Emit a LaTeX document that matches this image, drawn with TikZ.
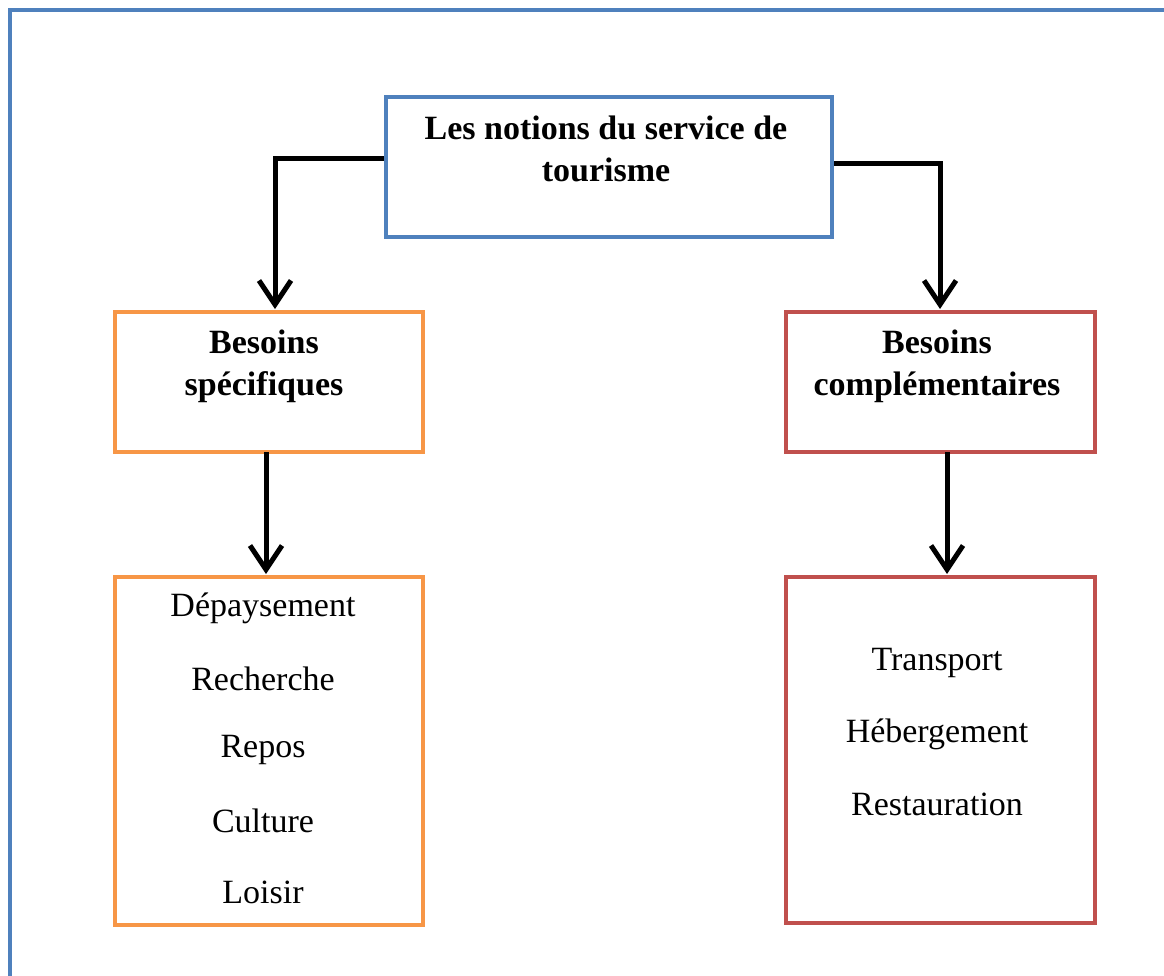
\documentclass[tikz,border=0pt]{standalone}
\usepackage{fontspec}
\setmainfont{Liberation Serif}
\usetikzlibrary{arrows.meta}
\definecolor{frameblue}{HTML}{4F81BD}
\definecolor{boxorange}{HTML}{F79646}
\definecolor{boxred}{HTML}{C0504D}
\tikzset{
  box/.style={draw, line width=4pt, minimum width=#1, inner sep=0pt, anchor=north west},
  conn/.style={line width=5pt, -{Straight Barb[length=24pt,width=32pt,line width=5pt]}},
  ttl/.style={font=\fontsize{34}{42}\selectfont\bfseries, align=center, inner sep=0pt},
  itm/.style={font=\fontsize{34}{42}\selectfont, inner sep=0pt},
}
\begin{document}
\begin{tikzpicture}[x=1pt,y=-1pt]
\useasboundingbox (0,0) rectangle (1164,975);
\clip (0,0) rectangle (1164,975);
\fill[white] (0,0) rectangle (1164,975);
\draw[frameblue, line width=4pt] (10,10) rectangle (1220,1030);
% boxes
\node[box=446pt, minimum height=140pt, draw=frameblue] (top) at (384,95) {};
\node[box=308pt, minimum height=140pt, draw=boxorange] (lb) at (113,310) {};
\node[box=309pt, minimum height=140pt, draw=boxred] (rb) at (784,310) {};
\node[box=308pt, minimum height=348pt, draw=boxorange] (ll) at (113,575) {};
\node[box=309pt, minimum height=346pt, draw=boxred] (rl) at (784,575) {};
% titles
\node[ttl] (toptxt) at (606,149) {Les notions du service de\\tourisme};
\node[ttl] (lbtxt) at (264,366) {Besoins\\spécifiques};
\node[ttl] (rbtxt) at (937,366) {Besoins\\complémentaires};
% items
\node[itm] (i1) at (263,608) {Dépaysement};
\node[itm] (i2) at (263,679) {Recherche};
\node[itm] (i3) at (263,750) {Repos};
\node[itm] (i4) at (263,821) {Culture};
\node[itm] (i5) at (263,892) {Loisir};
\node[itm] (j1) at (937,663) {Transport};
\node[itm] (j2) at (937,734) {Hébergement};
\node[itm] (j3) at (937,804) {Restauration};
% connectors
\draw[conn] (top.west |- 0,158) -- (275,158) -- (275,309) coordinate (lbin);
\draw[conn] (top.east |- 0,163) -- (940,163) -- (940,309) coordinate (rbin);
\draw[conn] (266,452) -- (266,574);
\draw[conn] (947,452) -- (947,574);
\end{tikzpicture}
\end{document}
